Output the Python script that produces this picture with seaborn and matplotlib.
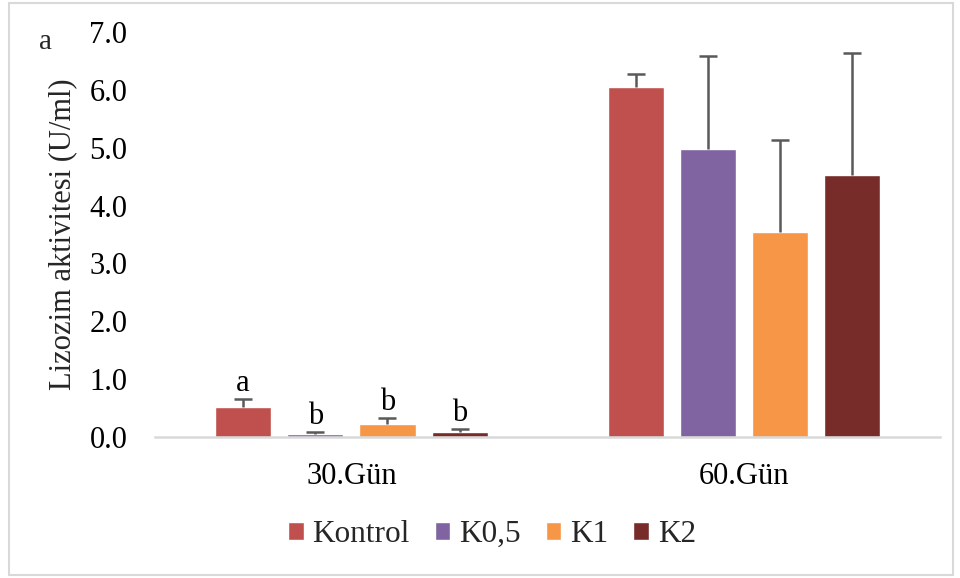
import numpy as np
import pandas as pd
import matplotlib
matplotlib.use("Agg")
import matplotlib.pyplot as plt
from matplotlib.patches import Rectangle
import seaborn as sns

# Lysozyme activity by sampling day and feed group
days = ["30.Gün", "60.Gün"]
groups = ["Kontrol", "K0,5", "K1", "K2"]
means_30 = [0.52, 0.05, 0.22, 0.09]
means_60 = [6.05, 4.98, 3.54, 4.53]
sd_30 = [0.13, 0.03, 0.11, 0.04]
sd_60 = [0.22, 1.60, 1.59, 2.10]
letters_30 = ["a", "b", "b", "b"]
palette = ["#C0504D", "#8064A2", "#F79646", "#772C2A"]

df = pd.DataFrame({
    "day": np.repeat(days, len(groups)),
    "group": groups * len(days),
    "mean": means_30 + means_60,
    "sd": sd_30 + sd_60,
})

sns.set_theme(style="white")
plt.rcParams["font.family"] = ["Liberation Serif", "DejaVu Serif"]

fig = plt.figure(figsize=(9.6, 5.78), dpi=100)
ax = fig.add_axes([0.1615, 0.244, 0.818, 0.7006])

sns.barplot(data=df, x="day", y="mean", hue="group", hue_order=groups,
            palette=palette, width=0.7356, gap=0.222, errorbar=None,
            saturation=1, ax=ax, legend=True)

# upward-only error bars from the bar tops
for i, g in enumerate(groups):
    for j, d in enumerate(days):
        row = df[(df["day"] == d) & (df["group"] == g)].iloc[0]
        p = ax.containers[i][j]
        xc = p.get_x() + p.get_width() / 2
        _, caps, _ = ax.errorbar(xc, row["mean"], yerr=[[0], [row["sd"]]],
                                 fmt="none", ecolor="#595959", elinewidth=1.8,
                                 capsize=6.5, capthick=1.8, zorder=3)
        caps[0].set_visible(False)
        if d == "30.Gün":
            ax.text(xc, row["mean"] + row["sd"] + 0.02, letters_30[i],
                    ha="center", va="bottom", fontsize=22, color="black")

ax.set_ylim(0, 7.0)
ax.set_xlim(-0.5, 1.5)
ax.set_yticks(np.arange(0, 7.01, 1.0))
ax.set_yticklabels([f"{v:.1f}" for v in np.arange(0, 7.01, 1.0)])
ax.tick_params(axis="both", labelsize=22, length=0, colors="black")
ax.tick_params(axis="y", pad=20)
ax.tick_params(axis="x", pad=18)
ax.set_xlabel("")
ax.set_ylabel("Lizozim aktivitesi (U/ml)", fontsize=22, labelpad=9)
for s in ["top", "right", "left"]:
    ax.spines[s].set_visible(False)
ax.spines["bottom"].set_color("#D9D9D9")
ax.spines["bottom"].set_linewidth(1.8)

leg = ax.legend(loc="upper center", bbox_to_anchor=(0.429, -0.135), ncol=4,
                frameon=False, fontsize=22.5, handlelength=0.5,
                handleheight=0.5, handletextpad=0.28, columnspacing=0.8)

fig.text(45 / 960, 1 - 42 / 578, "a", fontsize=21, ha="center", va="center")

fig.patches.append(Rectangle((9 / 960, 3 / 578), 944 / 960, 572 / 578,
                             transform=fig.transFigure, fill=False,
                             edgecolor="#D9D9D9", linewidth=1.5))

fig.savefig("out.png", dpi=100)
